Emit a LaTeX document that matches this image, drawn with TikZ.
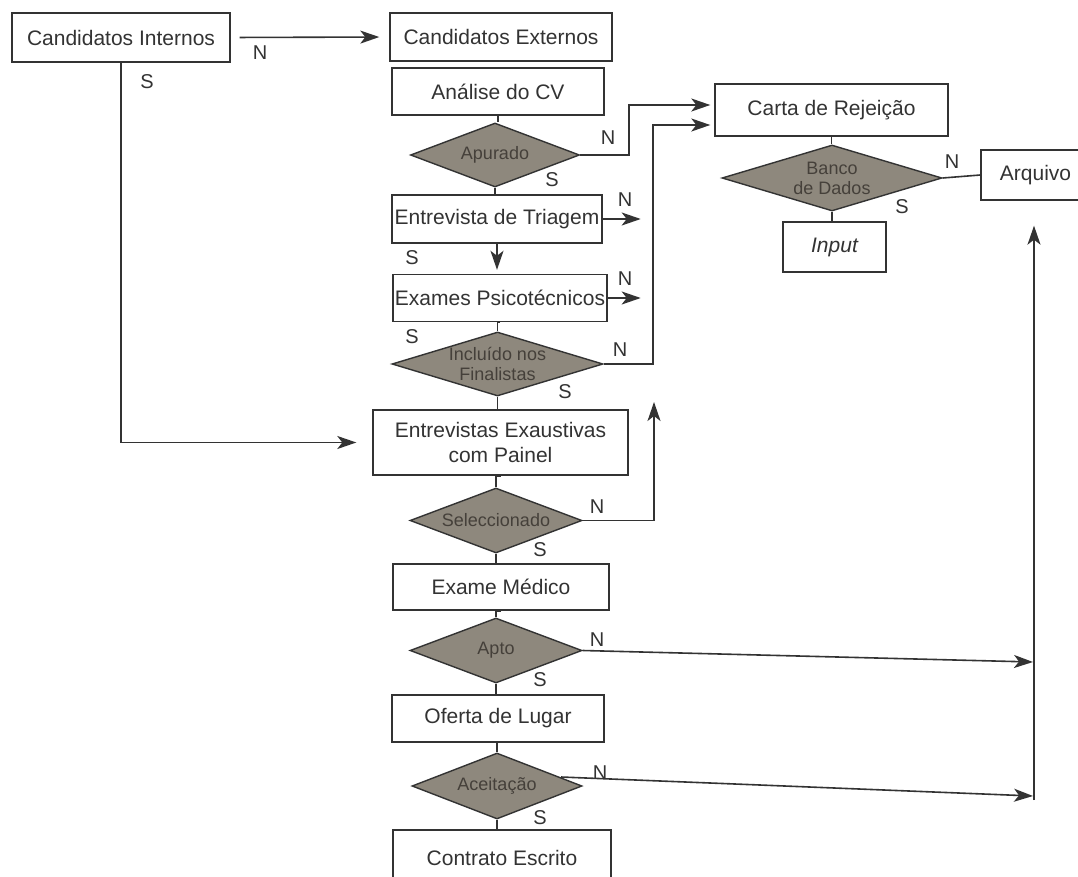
\documentclass[tikz,border=0pt]{standalone}
\usepackage{fontspec}
\setmainfont{Liberation Sans}
\usetikzlibrary{shapes.geometric,arrows.meta,calc}
\definecolor{ink}{HTML}{333333}
\definecolor{dfill}{HTML}{8E887D}
\definecolor{dtxt}{HTML}{45403A}
\begin{document}
\begin{tikzpicture}[x=1pt,y=-1pt,
  box/.style={draw=ink, line width=1.4pt, fill=white, rectangle, inner sep=0pt, text=ink,
              font=\fontsize{21}{25}\selectfont, align=center},
  dia/.style={draw=ink, line width=1.4pt, fill=dfill, diamond, inner sep=0pt},
  dlab/.style={text=dtxt, font=\fontsize{18}{20}\selectfont, align=center, inner sep=0pt},
  lab/.style={text=ink, font=\fontsize{20}{20}\selectfont, inner sep=0pt},
  conn/.style={draw=ink, line width=1.6pt},
  arr/.style={conn, -{Stealth[length=19pt,width=13pt,inset=5pt]}}]
\fill[white] (0,0) rectangle (1078,877);
\useasboundingbox (0,0) rectangle (1078,877);

% boxes
\node[box, minimum width=218pt, minimum height=49pt] (ci)  at (121,37.5) {Candidatos Internos};
\node[box, minimum width=222pt, minimum height=48pt] (ce)  at (501,37) {Candidatos Externos};
\node[box, minimum width=212pt, minimum height=47pt] (cv)  at (498,91.5) {Análise do CV};
\node[box, minimum width=210pt, minimum height=48pt] (tri) at (497,219) {Entrevista de Triagem};
\node[box, minimum width=214pt, minimum height=47pt] (psi) at (500,298) {Exames Psicotécnicos};
\node[box, minimum width=255pt, minimum height=65pt] (exa) at (500.5,442.5) {Entrevistas Exaustivas\\com Painel};
\node[box, minimum width=216pt, minimum height=46pt] (med) at (501,587) {Exame Médico};
\node[box, minimum width=212pt, minimum height=47pt] (ofe) at (498,718.5) {Oferta de Lugar};
\node[box, minimum width=218pt, minimum height=56pt] (con) at (502,858) {Contrato Escrito};
\node[box, minimum width=233pt, minimum height=52pt] (cr)  at (831.5,110) {Carta de Rejeição};
\node[box, minimum width=109pt, minimum height=50pt] (arq) at (1035.5,175) {Arquivo};
\node[box, minimum width=103pt, minimum height=50pt] (inp) at (834.5,247) {\itshape Input};

% diamonds
\node[dia, minimum width=169pt, minimum height=64pt, label={[dlab]center:Apurado}] (ap) at (495,155) {};
\node[dia, minimum width=211pt, minimum height=64pt, label={[dlab]center:{Incluído nos\\Finalistas}}] (inc) at (497.5,364) {};
\node[dia, minimum width=172pt, minimum height=65pt, label={[dlab]center:Seleccionado}] (sel) at (496,520.5) {};
\node[dia, minimum width=172pt, minimum height=65pt, label={[dlab]center:Apto}] (apt) at (496,650.5) {};
\node[dia, minimum width=170pt, minimum height=66pt, label={[dlab]center:Aceitação}] (ace) at (497,786) {};
\node[dia, minimum width=220pt, minimum height=66pt, label={[dlab]center:{Banco\\de Dados}}] (bd) at (832,178) {};

% helper coordinates
\coordinate (j1) at (629,105);
\coordinate (j2) at (653,125);
\coordinate (j3) at (654,402);
\coordinate (aceN) at (561,777);
\coordinate (vbot) at (1034,800);
\coordinate (aptT) at (1033,662);
\coordinate (aceT) at (1033,796);

% connectors
\draw[arr, shorten <=9pt, shorten >=10pt] (ci.east) -- (ce.west);
\draw[arr] (ci.south) |- ([xshift=-16pt]exa.west);
\draw[conn] (cv.south) -- (cv.south |- ap.north);
\draw[arr] (ap.east) -| (j1) -- ($(cr.west |- j1)+(-4,0)$);
\draw[conn] (ap.south) -- (ap.south |- tri.north);
\draw[arr] (tri.east) -- ++(38,0) coordinate (triN);
\draw[arr, shorten >=4pt] (tri.south) -- (tri.south |- psi.north);
\draw[arr] (psi.east) -- ++(33,0) coordinate (psiN);
\draw[conn] (psi.south) -- (psi.south -| inc.north) -- (inc.north);
\draw[arr] (inc.east) -| (j2) -- ($(cr.west |- j2)+(-4,0)$);
\draw[conn] (inc.south) -- (inc.south |- exa.north);
\draw[conn] (exa.south) -- (exa.south -| sel.north) -- (sel.north);
\draw[arr] (sel.east) -| (j3);
\draw[conn] (sel.south) -- (sel.south |- med.north);
\draw[conn] (med.south) -- (med.south -| apt.north) -- (apt.north);
\draw[arr] (apt.east) -- (aptT);
\draw[conn] (apt.south) -- (apt.south |- ofe.north);
\draw[conn] (ofe.south) -- (ofe.south -| ace.north) -- (ace.north);
\draw[arr] (aceN) -- (aceT);
\draw[conn] (ace.south) -- (ace.south |- con.north);
\draw[arr] (vbot) -- ([yshift=-25pt]arq.south -| vbot);
\draw[conn] (cr.south) -- (cr.south |- bd.north);
\draw[conn] (bd.east) -- (arq.west);
\draw[conn] (bd.south) -- (bd.south |- inp.north);

% N / S labels
\node[lab] (n1) at (260,53) {N};
\node[lab] (s1) at (147,82) {S};
\node[lab] (n2) at (608,138) {N};
\node[lab] (s2) at (552,180) {S};
\node[lab] (n3) at (625,200) {N};
\node[lab] (s3) at (412,258) {S};
\node[lab] (n4) at (625,279) {N};
\node[lab] (s4) at (412,337) {S};
\node[lab] (n5) at (620,350) {N};
\node[lab] (s5) at (565,392) {S};
\node[lab] (n6) at (597,507) {N};
\node[lab] (s6) at (540,550) {S};
\node[lab] (n7) at (597,640) {N};
\node[lab] (s7) at (540,680) {S};
\node[lab] (n8) at (600,773) {N};
\node[lab] (s8) at (540,818) {S};
\node[lab] (n9) at (952,162) {N};
\node[lab] (s9) at (902,207) {S};
\end{tikzpicture}
\end{document}
